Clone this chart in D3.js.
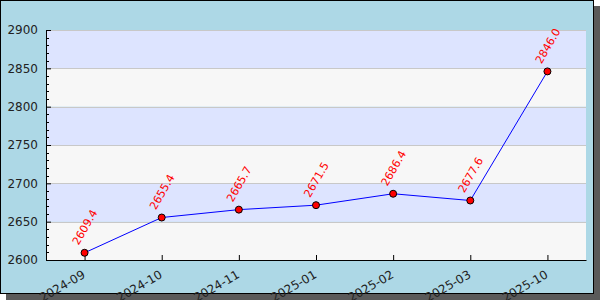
<!DOCTYPE html>
<html>
<head>
<meta charset="utf-8">
<script src="https://cdn.jsdelivr.net/npm/d3@7/dist/d3.min.js"></script>
<style>
  body { margin: 0; background: #fff; }
  svg { display: block; font-family: "DejaVu Sans", sans-serif; }
</style>
</head>
<body>
<div id="chart"></div>
<script>
// datos del gráfico
const months = ['2024-09', '2024-10', '2024-11', '2025-01', '2025-02', '2025-03', '2025-10'];
const values = [2609.4, 2655.4, 2665.7, 2671.5, 2686.4, 2677.6, 2846.0];
const yTicks = [2600, 2650, 2700, 2750, 2800, 2850, 2900];

const W = 600, H = 300;
const margin = { top: 30, right: 14, bottom: 40, left: 46 };
const width = W - margin.left - margin.right;
const height = H - margin.top - margin.bottom;

const svg = d3.select('#chart').append('svg')
  .attr('width', W)
  .attr('height', H);

// sombra y marco
svg.append('rect')
  .attr('x', 6).attr('y', 6)
  .attr('width', W - 6).attr('height', H - 6)
  .attr('fill', '#5a5a5a');
svg.append('rect')
  .attr('x', 0.5).attr('y', 0.5)
  .attr('width', W - 7).attr('height', H - 7)
  .attr('fill', '#add8e6')
  .attr('stroke', '#000')
  .attr('stroke-width', 1);

const g = svg.append('g')
  .attr('transform', `translate(${margin.left},${margin.top})`);

const x = d3.scalePoint()
  .domain(months)
  .range([0, width])
  .padding(0.5);

const y = d3.scaleLinear()
  .domain([2600, 2900])
  .range([height, 0]);

// bandas alternas
const bands = d3.pairs(yTicks);
g.selectAll('.band')
  .data(bands)
  .join('rect')
  .attr('class', 'band')
  .attr('x', 0)
  .attr('width', width)
  .attr('y', d => y(d[1]))
  .attr('height', d => y(d[0]) - y(d[1]))
  .attr('fill', (d, i) => i % 2 === 0 ? '#f7f7f7' : '#dde4ff');

// rejilla
g.selectAll('.grid')
  .data(yTicks.slice(1))
  .join('line')
  .attr('class', 'grid')
  .attr('x1', 0).attr('x2', width)
  .attr('y1', d => Math.round(y(d)) + 0.5)
  .attr('y2', d => Math.round(y(d)) + 0.5)
  .attr('stroke', '#c8c8c8')
  .attr('stroke-width', 1);

// ticks menores
const minor = d3.range(2600, 2901, 10).filter(v => v % 50 !== 0);
g.selectAll('.minor')
  .data(minor)
  .join('line')
  .attr('class', 'minor')
  .attr('x1', 0).attr('x2', 3)
  .attr('y1', d => Math.round(y(d)) + 0.5)
  .attr('y2', d => Math.round(y(d)) + 0.5)
  .attr('stroke', '#000');

const yAxis = g.append('g')
  .attr('class', 'axis axis-y')
  .call(d3.axisLeft(y).tickValues(yTicks).tickSize(-5).tickPadding(8).tickFormat(d3.format('d')));

const xAxis = g.append('g')
  .attr('class', 'axis axis-x')
  .attr('transform', `translate(0,${height})`)
  .call(d3.axisBottom(x).tickSize(-5).tickSizeOuter(0).tickPadding(8));

svg.selectAll('.axis .domain').attr('stroke', '#000');
svg.selectAll('.axis line').attr('stroke', '#000');
svg.selectAll('.axis text')
  .attr('fill', '#222')
  .style('font-size', '12px')
  .style('font-family', '"DejaVu Sans", sans-serif');

yAxis.selectAll('text').attr('x', -8);

xAxis.selectAll('text')
  .attr('x', 0)
  .attr('y', 0)
  .attr('dy', 0)
  .attr('text-anchor', 'end')
  .attr('transform', 'translate(1,17) rotate(-30)');

// línea
const line = d3.line()
  .x((d, i) => x(months[i]))
  .y(d => y(d));

g.append('path')
  .datum(values)
  .attr('fill', 'none')
  .attr('stroke', '#0000ff')
  .attr('stroke-width', 1)
  .attr('d', line);

g.selectAll('.dot')
  .data(values)
  .join('circle')
  .attr('class', 'dot')
  .attr('cx', (d, i) => x(months[i]))
  .attr('cy', d => y(d))
  .attr('r', 3.5)
  .attr('fill', '#ff0000')
  .attr('stroke', '#000')
  .attr('stroke-width', 1);

// etiquetas de valor
g.selectAll('.val')
  .data(values)
  .join('text')
  .attr('class', 'val')
  .attr('transform', (d, i) => `translate(${x(months[i]) - 6},${y(d) - 7}) rotate(-60)`)
  .attr('fill', '#ff0000')
  .style('font-size', '11px')
  .text(d => d.toFixed(1));
</script>
</body>
</html>
